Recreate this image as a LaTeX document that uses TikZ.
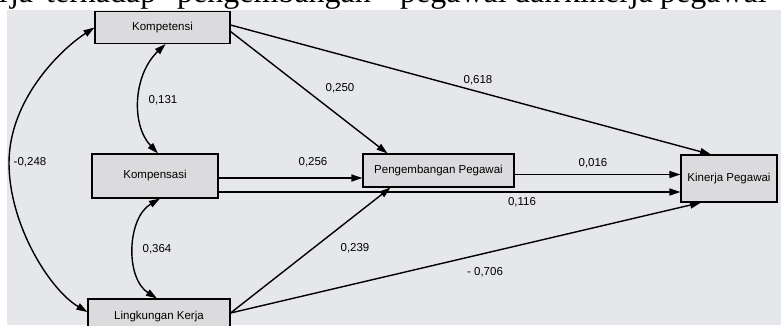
\documentclass[tikz,border=0pt]{standalone}
\usepackage{fontspec}
\setmainfont{Liberation Serif}
\setsansfont{Liberation Sans}
\usetikzlibrary{arrows.meta,calc}
\definecolor{paper}{HTML}{E6E7EB}
\definecolor{boxfill}{HTML}{DBDBDE}
\begin{document}
\begin{tikzpicture}[x=1pt,y=-1pt,
  box/.style={draw=black,line width=1.1pt,fill=boxfill,minimum width=#1,
    inner sep=0pt,font=\sffamily\fontsize{11.5}{13}\selectfont},
  link/.style={line width=1.4pt,-{Triangle[length=11pt,width=7pt]}},
  twoway/.style={line width=1.4pt,{Triangle[length=11pt,width=7pt]}-{Triangle[length=11pt,width=7pt]}},
  coef/.style={font=\sffamily\fontsize{11.5}{13}\selectfont,inner sep=0pt},
  word/.style={anchor=base west,inner sep=0pt,font=\fontsize{32}{36}\selectfont}]
\useasboundingbox (0,0) rectangle (781,325);
\clip (0,0) rectangle (781,325);
% page and scanned figure area
\fill[white] (0,0) rectangle (781,325);
\fill[paper] (7,10) rectangle (781,325);
% line of running text above the figure
\node[word] (w1) at (-31,2) {kerja};
\node[word] (w2) at (46,2) {terhadap};
\node[word] (w3) at (177,2) {pengembangan};
\node[word] (w4) at (400,2) {pegawai};
\node[word] (w5) at (514,2) {dan};
\node[word] (w6) at (564,2) {kinerja};
\node[word] (w7) at (660,2) {pegawai};
% variables
\node[box=135pt,minimum height=32pt] (kompetensi) at (162.5,27.5) {Kompetensi};
\node[box=126pt,minimum height=44pt] (kompensasi) at (155,176) {Kompensasi};
\node[box=142pt,minimum height=36pt] (lingkungan) at (159,317) {Lingkungan Kerja};
\node[box=151pt,minimum height=33pt] (peng) at (438.5,170.5) {Pengembangan Pegawai};
\node[box=96pt,minimum height=47pt] (kinerja) at (729,178.5) {Kinerja Pegawai};
% correlations
\draw[twoway] ([xshift=3pt]kompetensi.south) .. controls (133,75) and (131,125) .. ([xshift=3pt]kompensasi.north);
\draw[twoway] ([xshift=5pt]kompensasi.south) .. controls (127,218) and (125,278) .. ([xshift=-2pt]lingkungan.north);
\draw[twoway] ([yshift=0pt]kompetensi.west) .. controls (60,50) and (9,100) .. (9,163)
  .. controls (9,225) and (50,290) .. ([yshift=5pt]lingkungan.west);
% paths
\draw[link] ([yshift=2.5pt]kompetensi.east) -- ([xshift=-18pt]kinerja.north);
\draw[link] ([yshift=-4pt]kompetensi.east) -- ([xshift=-51pt]peng.north);
\draw[link] ($(kompensasi.east)+(0,2)$) -- ($(kompensasi.east -| peng.west)+(0,2)$);
\draw[link] ($(kompensasi.east)+(0,16)$) -- ($(kompensasi.east -| kinerja.west)+(0,16)$);
\draw[link] ($(peng.east)+(0,4)$) -- ($(peng.east -| kinerja.west)+(0,4)$);
\draw[link] ([yshift=4pt]lingkungan.east) -- ([xshift=-48pt]peng.south);
\draw[link] ([yshift=4pt]lingkungan.east) -- ([xshift=-28pt]kinerja.south);
% coefficients
\node[coef] (c1) at (478,80) {0,618};
\node[coef] (c2) at (340,88) {0,250};
\node[coef] (c3) at (163,100) {0,131};
\node[coef] (c4) at (30,162) {-0,248};
\node[coef] (c5) at (313,162) {0,256};
\node[coef] (c6) at (593,163) {0,016};
\node[coef] (c7) at (522,202) {0,116};
\node[coef] (c8) at (157,249) {0,364};
\node[coef] (c9) at (355,248) {0,239};
\node[coef] (c10) at (485,272) {- 0,706};
\end{tikzpicture}
\end{document}
